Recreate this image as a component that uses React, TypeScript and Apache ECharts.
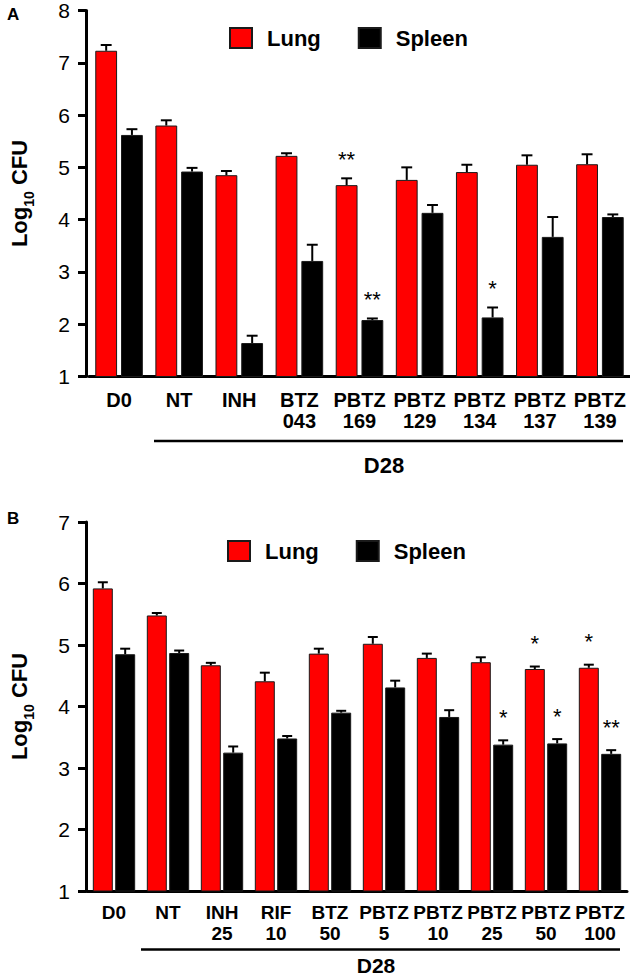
import React, { useEffect, useRef } from 'react';
import * as echarts from 'echarts';

const FONT = 'Liberation Sans, Arial, Helvetica, sans-serif';

// Panel A
const categoriesA = ['D0', 'NT', 'INH', 'BTZ\n043', 'PBTZ\n169', 'PBTZ\n129', 'PBTZ\n134', 'PBTZ\n137', 'PBTZ\n139'];
const lungA = [7.23, 5.8, 4.85, 5.22, 4.66, 4.76, 4.91, 5.05, 5.06];
const lungErrTopA = [7.34, 5.9, 4.93, 5.27, 4.79, 5.0, 5.05, 5.23, 5.25];
const spleenA = [5.62, 4.92, 1.64, 3.21, 2.08, 4.13, 2.13, 3.67, 4.05];
const spleenErrTopA = [5.73, 4.99, 1.78, 3.52, 2.11, 4.28, 2.32, 4.05, 4.1];
const lungSigA = ['', '', '', '', '**', '', '', '', ''];
const spleenSigA = ['', '', '', '', '**', '', '*', '', ''];
const yTicksA = { min: 1, max: 8, interval: 1 };

// Panel B
const categoriesB = ['D0', 'NT', 'INH\n25', 'RIF\n10', 'BTZ\n50', 'PBTZ\n5', 'PBTZ\n10', 'PBTZ\n25', 'PBTZ\n50', 'PBTZ\n100'];
const lungB = [5.92, 5.48, 4.67, 4.41, 4.86, 5.02, 4.79, 4.72, 4.61, 4.63];
const lungErrTopB = [6.02, 5.52, 4.71, 4.55, 4.94, 5.13, 4.86, 4.8, 4.65, 4.68];
const spleenB = [4.85, 4.87, 3.25, 3.48, 3.9, 4.31, 3.83, 3.38, 3.4, 3.23];
const spleenErrTopB = [4.94, 4.91, 3.35, 3.52, 3.93, 4.42, 3.94, 3.45, 3.47, 3.29];
const lungSigB = ['', '', '', '', '', '', '', '', '*', '*'];
const spleenSigB = ['', '', '', '', '', '', '', '*', '*', '**'];
const yTicksB = { min: 1, max: 7, interval: 1 };

const seriesNames = ['Lung', 'Spleen'];

const BW_A = 0.363, GAP_A = 0.18;
const BW_B = 0.37, GAP_B = 0.12;

function errSeries(axis: number, vals: number[], tops: number[], sigs: string[], side: number, bw: number, gap: number, sigOff: number) {
  return {
    type: 'custom',
    name: 'err' + axis + side,
    xAxisIndex: axis,
    yAxisIndex: axis,
    z: 5,
    data: vals.map((v, i) => [i, v, tops[i]]),
    encode: { x: 0, y: [1, 2] },
    renderItem: (params: any, api: any) => {
      const i = api.value(0);
      const base = api.coord([i, api.value(1)]);
      const top = api.coord([i, api.value(2)]);
      const band = api.size([1, 0])[0];
      const w = band * bw;
      const cx = base[0] + side * (w * (1 + gap)) / 2;
      const cap = w * 0.5;
      const children: any[] = [
        { type: 'line', shape: { x1: cx, y1: base[1], x2: cx, y2: top[1] }, style: { stroke: '#000', lineWidth: 2 } },
        { type: 'line', shape: { x1: cx - cap / 2, y1: top[1], x2: cx + cap / 2, y2: top[1] }, style: { stroke: '#000', lineWidth: 2 } },
      ];
      const s = sigs[params.dataIndex];
      if (s) {
        children.push({
          type: 'text',
          style: { text: s, x: cx, y: top[1] - sigOff, align: 'center', verticalAlign: 'middle', fontSize: 22, fill: '#000', fontFamily: FONT },
        });
      }
      return { type: 'group', children };
    },
  };
}

function barSeries(axis: number, name: string, vals: number[], color: string, bw: number, gap: number) {
  return {
    type: 'bar',
    name,
    xAxisIndex: axis,
    yAxisIndex: axis,
    data: vals,
    barWidth: (bw * 100).toFixed(1) + '%',
    barGap: (gap * 100).toFixed(0) + '%',
    itemStyle: { color, borderColor: '#1a1a1a', borderWidth: 1 },
    z: 2,
  };
}

const axisNameRich = {
  a: { fontSize: 22, fontWeight: 'bold', fontFamily: FONT, color: '#000', verticalAlign: 'top' },
  s: { fontSize: 14, fontWeight: 'bold', fontFamily: FONT, color: '#000', padding: [14, 0, 0, 0], verticalAlign: 'bottom' },
};

function yAxis(gridIndex: number, ticks: any, offset: number) {
  return {
    type: 'value',
    gridIndex,
    min: ticks.min,
    max: ticks.max,
    interval: ticks.interval,
    offset,
    name: '{a|Log}{s|10}{a| CFU}',
    nameLocation: 'middle',
    nameGap: 50,
    nameTextStyle: { rich: axisNameRich },
    axisLine: { show: true, lineStyle: { color: '#000', width: 3 } },
    axisTick: { show: true, length: 8, lineStyle: { color: '#000', width: 3 } },
    splitLine: { show: false },
    axisLabel: {
      margin: 16,
      fontSize: 21,
      color: '#000',
      fontFamily: FONT,
    },
  };
}

function xAxis(gridIndex: number, cats: string[], fontSize: number, margin: number) {
  return {
    type: 'category',
    gridIndex,
    data: cats,
    axisLine: { show: true, lineStyle: { color: '#000', width: 3 } },
    axisTick: { show: false },
    axisLabel: {
      interval: 0,
      margin,
      fontSize,
      fontWeight: 'bold',
      color: '#000',
      fontFamily: FONT,
      lineHeight: 21,
    },
  };
}

function legend(left: number, top: number) {
  return {
    left,
    top,
    data: seriesNames,
    itemWidth: 22,
    itemHeight: 20,
    itemGap: 37,
    selectedMode: false,
    icon: 'rect',
    textStyle: { fontSize: 22, fontWeight: 'bold', color: '#000', fontFamily: FONT, padding: [0, 0, 0, 10] },
  };
}

export default function App() {
  const ref = useRef<HTMLDivElement>(null);
  useEffect(() => {
    if (!ref.current) return;
    const chart = echarts.init(ref.current, undefined, { renderer: 'svg' });
    chart.setOption({
      animation: false,
      backgroundColor: '#fff',
      grid: [
        { left: 76, top: 8, width: 554, height: 368.5 },
        { left: 73, top: 522, width: 554, height: 369 },
      ],
      xAxis: [xAxis(0, categoriesA, 20, 13), xAxis(1, categoriesB, 19, 11)],
      yAxis: [yAxis(0, yTicksA, 3), yAxis(1, yTicksB, 1)],
      legend: [legend(224, 22), legend(222, 535)],
      series: [
        barSeries(0, 'Lung', lungA, '#ff0000', BW_A, GAP_A),
        barSeries(0, 'Spleen', spleenA, '#000000', BW_A, GAP_A),
        errSeries(0, lungA, lungErrTopA, lungSigA, -1, BW_A, GAP_A, 19),
        errSeries(0, spleenA, spleenErrTopA, spleenSigA, 1, BW_A, GAP_A, 19),
        barSeries(1, 'Lung', lungB, '#ff0000', BW_B, GAP_B),
        barSeries(1, 'Spleen', spleenB, '#000000', BW_B, GAP_B),
        errSeries(1, lungB, lungErrTopB, lungSigB, -1, BW_B, GAP_B, 23),
        errSeries(1, spleenB, spleenErrTopB, spleenSigB, 1, BW_B, GAP_B, 23),
      ],
      graphic: [
        { type: 'text', left: 7, top: 6, style: { text: 'A', fontSize: 17, fontWeight: 'bold', fill: '#000', fontFamily: FONT } },
        { type: 'text', left: 7, top: 510, style: { text: 'B', fontSize: 17, fontWeight: 'bold', fill: '#000', fontFamily: FONT } },
        { type: 'line', shape: { x1: 154, y1: 441, x2: 623, y2: 441 }, style: { stroke: '#000', lineWidth: 2.5 } },
        { type: 'text', x: 384, y: 465, style: { text: 'D28', x: 0, y: 0, align: 'center', verticalAlign: 'middle', fontSize: 22, fontWeight: 'bold', fill: '#000', fontFamily: FONT } },
        { type: 'line', shape: { x1: 141, y1: 949.5, x2: 620, y2: 949.5 }, style: { stroke: '#000', lineWidth: 2.5 } },
        { type: 'text', x: 376, y: 965, style: { text: 'D28', x: 0, y: 0, align: 'center', verticalAlign: 'middle', fontSize: 21, fontWeight: 'bold', fill: '#000', fontFamily: FONT } },
      ],
    });
    return () => chart.dispose();
  }, []);
  return <div ref={ref} style={{ position: 'absolute', left: 0, top: 0, width: 630, height: 977, background: '#fff' }} />;
}
